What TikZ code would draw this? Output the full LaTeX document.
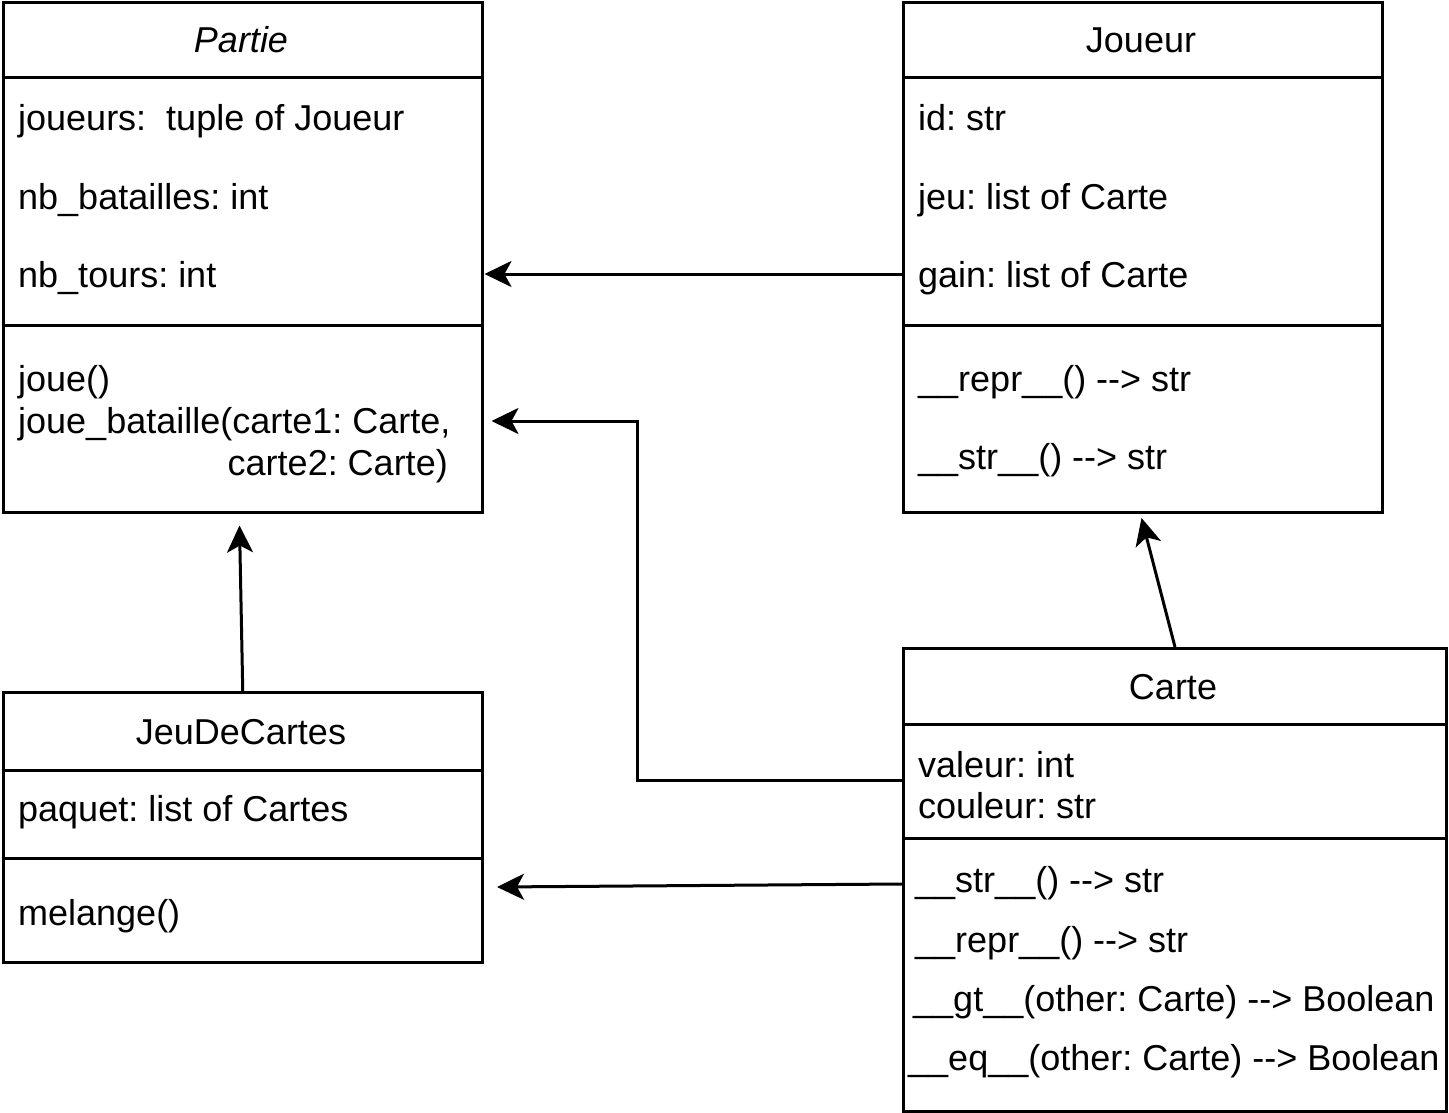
\documentclass[tikz,border=0pt]{standalone}
\usepackage{fontspec}
\setmainfont{Liberation Sans}
\usetikzlibrary{arrows.meta,calc}
\begin{document}
\frenchspacing
\begin{tikzpicture}[x=1pt,y=-1pt,
  cls/.style={draw, line width=3pt, rectangle, inner sep=0pt, anchor=north west},
  sepline/.style={line width=3pt},
  txt/.style={anchor=base west, inner sep=0pt, font=\fontsize{36}{43}\selectfont},
  ttl/.style={anchor=base, inner sep=0pt, font=\fontsize{36}{43}\selectfont},
  arr/.style={line width=3pt, -{Stealth[length=27pt,width=26pt,inset=7pt]}}]
\useasboundingbox (0,0) rectangle (1449,1113);

% ---------- Partie ----------
\node[cls, minimum width=479pt, minimum height=509pt] (partie) at (1.5,1.5) {};
\draw[sepline] (partie.west |- 0,78) -- (partie.east |- 0,78);
\draw[sepline] (partie.west |- 0,325) -- (partie.east |- 0,325);
\node[ttl, font=\fontsize{36}{43}\selectfont\itshape] (partieT) at (241,53) {Partie};
\node[txt] (p1) at (18,131) {joueurs:\ \ tuple of Joueur};
\node[txt] (p2) at (18,209) {nb\_batailles: int};
\node[txt] (p3) at (18,287) {nb\_tours: int};
\node[txt] (p4) at (18,391) {joue()};
\node[txt] (p5) at (18,433) {joue\_bataille(carte1: Carte,};
\node[txt, anchor=base east] (p6) at (448,475) {carte2: Carte)};

% ---------- Joueur ----------
\node[cls, minimum width=479pt, minimum height=509.5pt] (joueur) at (902,1.5) {};
\draw[sepline] (joueur.west |- 0,78) -- (joueur.east |- 0,78);
\draw[sepline] (joueur.west |- 0,325) -- (joueur.east |- 0,325);
\node[ttl] (joueurT) at (1141,53) {Joueur};
\node[txt] (j1) at (918,131) {id: str};
\node[txt] (j2) at (918,209) {jeu: list of Carte};
\node[txt] (j3) at (918,287) {gain: list of Carte};
\node[txt] (j4) at (918,391) {\_\_repr\_\_() {-}{-}> str};
\node[txt] (j5) at (918,469) {\_\_str\_\_() {-}{-}> str};

% ---------- JeuDeCartes ----------
\node[cls, minimum width=479.5pt, minimum height=270pt] (jeu) at (1.5,691) {};
\draw[sepline] (jeu.west |- 0,770) -- (jeu.east |- 0,770);
\draw[sepline] (jeu.west |- 0,858) -- (jeu.east |- 0,858);
\node[ttl] (jeuT) at (241,744) {JeuDeCartes};
\node[txt] (d1) at (18,821) {paquet: list of Cartes};
\node[txt] (d2) at (18,925) {melange()};

% ---------- Carte ----------
\node[cls, minimum width=543pt, minimum height=462.5pt] (carte) at (902,647) {};
\draw[sepline] (carte.west |- 0,724) -- (carte.east |- 0,724);
\draw[sepline] (carte.west |- 0,838) -- (carte.east |- 0,838);
\node[ttl] (carteT) at (1173,699) {Carte};
\node[txt] (c1) at (918,777) {valeur: int};
\node[txt] (c2) at (918,818) {couleur: str};
\node[txt] (c3) at (915,892) {\_\_str\_\_() {-}{-}> str};
\node[txt] (c4) at (915,952) {\_\_repr\_\_() {-}{-}> str};
\node[txt] (c5) at (913,1011) {\_\_gt\_\_(other: Carte) {-}{-}> Boolean};
\node[txt] (c6) at (908,1070) {\_\_eq\_\_(other: Carte) {-}{-}> Boolean};

% ---------- connectors ----------
\draw[arr] (joueur.west |- 0,274) -- ([xshift=1pt]partie.east |- 0,274);
\draw[arr] (carte.west |- 0,780) -| (637,421) -- ([xshift=8pt]partie.east |- 0,421);
\draw[arr] (carte.west |- 0,884) -- ([xshift=13pt]jeu.east |- 0,887);
\draw[arr] (jeu.north) -- ([xshift=-3pt,yshift=-12pt]partie.south);
\draw[arr] (carte.north) -- ([xshift=-1.5pt,yshift=-4pt]joueur.south);
\end{tikzpicture}
\end{document}
